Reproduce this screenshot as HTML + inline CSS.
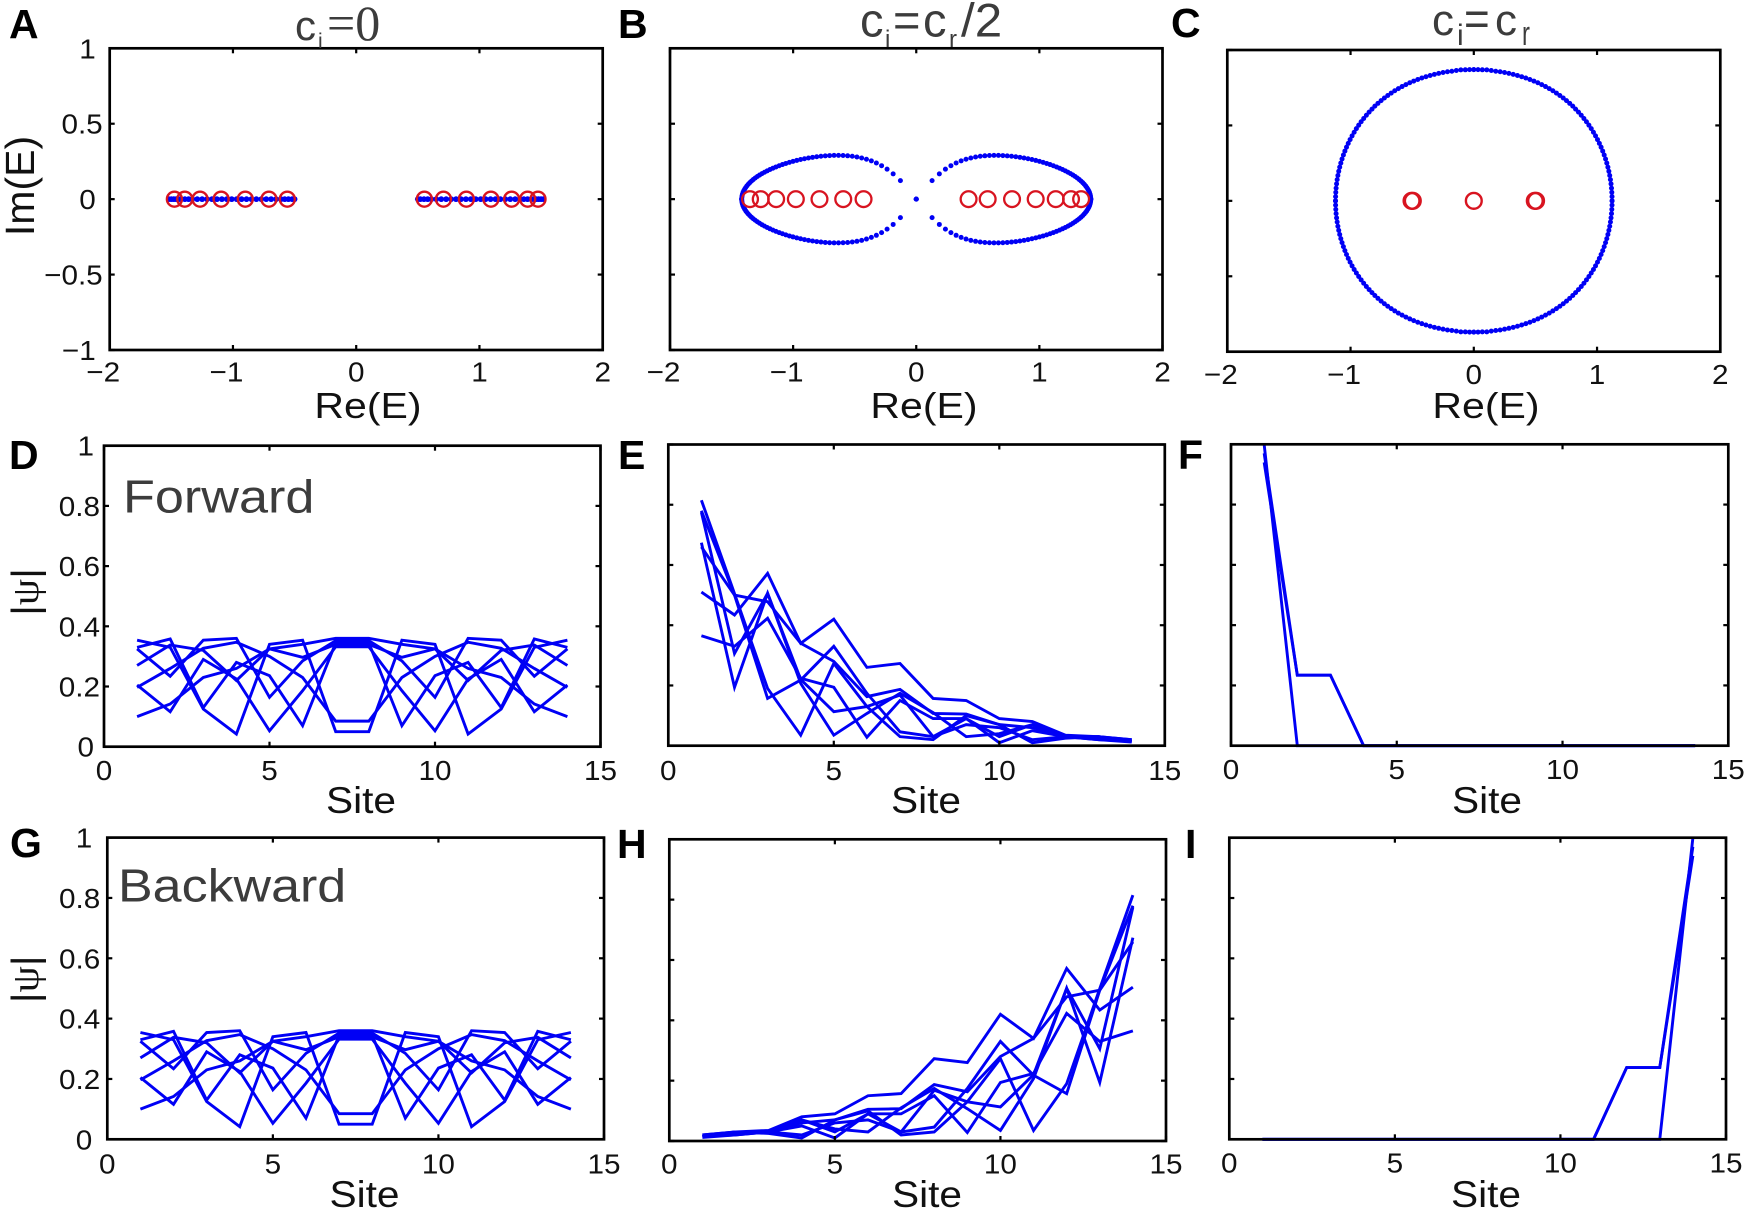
<!DOCTYPE html>
<html lang="en">
<head>
<meta charset="utf-8">
<title>Complex spectra and eigenstate profiles</title>
<style>
  html, body { margin: 0; padding: 0; background: #fff; }
  svg { display: block; filter: blur(0.35px); }
  .sans { font-family: "Liberation Sans", sans-serif; }
  .serif { font-family: "Liberation Serif", serif; }
  .lt { fill: #111; }
  .tt { fill: #3c3c3c; }
  .pl { font-family: "Liberation Sans", sans-serif; font-weight: bold; font-size: 41px; fill: #000; }
</style>
</head>
<body>
<svg id="fig" xmlns="http://www.w3.org/2000/svg" width="1748" height="1213" viewBox="0 0 1748 1213">
  <rect x="0" y="0" width="1748" height="1213" fill="#fff"/>
  <g id="plots"></g>

  <text class="pl" x="9" y="38">A</text>
  <text class="pl" x="618" y="38">B</text>
  <text class="pl" x="1171" y="37">C</text>
  <text class="pl" x="9" y="469">D</text>
  <text class="pl" x="618" y="469">E</text>
  <text class="pl" x="1178" y="469">F</text>
  <text class="pl" x="10" y="857">G</text>
  <text class="pl" x="617" y="858">H</text>
  <text class="pl" x="1185" y="858">I</text>

  <g>
    <text class="sans tt" font-size="42" x="295" y="40">c</text>
    <text class="sans tt" font-size="21" x="318" y="48">i</text>
    <text class="serif tt" font-size="50" x="327" y="40">=0</text>
  </g>
  <g>
    <text class="sans tt" font-size="47" x="860" y="36.7">c</text>
    <text class="sans tt" font-size="24" x="885" y="47">i</text>
    <text class="sans tt" font-size="47" x="893" y="36.7">=</text>
    <text class="sans tt" font-size="47" x="923" y="36.7">c</text>
    <text class="sans tt" font-size="24" x="949" y="47">r</text>
    <text class="sans tt" font-size="47" transform="translate(961,36.7) scale(1.05,1)">/2</text>
  </g>
  <g>
    <text class="sans tt" font-size="44" x="1432" y="35">c</text>
    <text class="sans tt" font-size="30" x="1457" y="45">i</text>
    <text class="sans tt" font-size="44" transform="translate(1464,35) scale(1,1.1)">=</text>
    <text class="sans tt" font-size="44" x="1495" y="35">c</text>
    <text class="sans tt" font-size="34" transform="translate(1522,45) scale(0.7,1)">r</text>
  </g>

  <text class="sans tt" font-size="46" transform="translate(123,512.7) scale(1.135,1)">Forward</text>
  <text class="sans tt" font-size="46" transform="translate(118,901.7) scale(1.13,1)">Backward</text>

  <text class="sans lt" font-size="41" text-anchor="middle" transform="translate(34,186) rotate(-90)">Im(E)</text>
  <text class="sans lt" font-size="38" text-anchor="middle" transform="translate(38,592) rotate(-90) scale(1.1,1)">|<tspan class="serif">ψ</tspan>|</text>
  <text class="sans lt" font-size="38" text-anchor="middle" transform="translate(38,979.3) rotate(-90) scale(1.1,1)">|<tspan class="serif">ψ</tspan>|</text>

  <text class="sans lt" font-size="36" text-anchor="middle" transform="translate(368,418) scale(1.14,1)">Re(E)</text>
  <text class="sans lt" font-size="36" text-anchor="middle" transform="translate(924,418) scale(1.14,1)">Re(E)</text>
  <text class="sans lt" font-size="36" text-anchor="middle" transform="translate(1486,418) scale(1.14,1)">Re(E)</text>
  <text class="sans lt" font-size="37" text-anchor="middle" transform="translate(361,813) scale(1.1,1)">Site</text>
  <text class="sans lt" font-size="37" text-anchor="middle" transform="translate(926,813) scale(1.1,1)">Site</text>
  <text class="sans lt" font-size="37" text-anchor="middle" transform="translate(1487,813) scale(1.1,1)">Site</text>
  <text class="sans lt" font-size="37" text-anchor="middle" transform="translate(364.5,1207) scale(1.1,1)">Site</text>
  <text class="sans lt" font-size="37" text-anchor="middle" transform="translate(927,1207) scale(1.1,1)">Site</text>
  <text class="sans lt" font-size="37" text-anchor="middle" transform="translate(1486,1207) scale(1.1,1)">Site</text>
</svg>

<script>
// ---------- Data ----------
const sites = [1,2,3,4,5,6,7,8,9,10,11,12,13,14];
const reTicks = [-2,-1,0,1,2];
const reTickLabels = ['−2','−1','0','1','2'];
const imTicks = [-1,-0.5,0,0.5,1];
const imTickLabels = ['−1','−0.5','0','0.5','1'];
const siteTicks = [0,5,10,15];
const siteTickLabels = ['0','5','10','15'];
const psiTicks = [0,0.2,0.4,0.6,0.8,1];
const psiTickLabels = ['0','0.2','0.4','0.6','0.8','1'];

// Panel A: blue spectrum on the real axis (positive half, mirrored to negative band)
const bandARe = [0.5,0.52,0.55,0.58,0.61,0.65,0.69,0.73,0.77,0.81,0.85,0.89,0.93,0.97,1.01,1.05,1.09,1.13,1.17,1.21,1.25,1.29,1.33,1.36,1.39,1.42,1.44,1.46,1.48,1.5,1.52];
const openARe = [-1.475,-1.391,-1.267,-1.096,-0.9,-0.708,-0.559,0.553,0.708,0.894,1.093,1.261,1.391,1.475];

// Panel B: first-quadrant points of the lobes (reflected into the other quadrants)
const loopBRe = [0,0.1286,0.1876,0.2369,0.2816,0.3239,0.3645,0.4043,0.4433,0.4818,0.5197,0.5572,0.5944,0.6312,0.6675,0.7035,0.7389,0.7739,0.8083,0.8421,0.8753,0.9079,0.9396,0.9707,1.001,1.0305,1.0591,1.0868,1.1135,1.1393,1.1642,1.188,1.2108,1.2324,1.253,1.2724,1.2907,1.3079,1.3238,1.3386,1.3521,1.3643,1.3754,1.3851,1.3936,1.4008,1.4067,1.4113,1.4146,1.4165,1.4184];
const loopBIm = [0,0.1226,0.1677,0.1987,0.2218,0.2397,0.2536,0.2645,0.273,0.2794,0.2841,0.2873,0.2893,0.2901,0.2899,0.2889,0.287,0.2844,0.2812,0.2773,0.2729,0.268,0.2626,0.2567,0.2504,0.2439,0.2367,0.2293,0.2216,0.2135,0.2052,0.1966,0.1877,0.1786,0.1693,0.1597,0.1499,0.14,0.1299,0.1196,0.1092,0.0986,0.0879,0.0772,0.0663,0.0554,0.0444,0.0333,0.0222,0.0111,0];
const openBRe = [-1.35,-1.263,-1.138,-0.978,-0.786,-0.593,-0.428,0.425,0.58,0.778,0.97,1.133,1.257,1.339];

// Panel C: first-quadrant points of the closed loop (reflected into the other quadrants)
const loopCRe = [1.122,1.1214,1.1198,1.1172,1.1134,1.1086,1.1028,1.0959,1.088,1.079,1.069,1.0579,1.0459,1.0328,1.0188,1.0037,0.9877,0.9707,0.9528,0.9339,0.9141,0.8934,0.8718,0.8494,0.826,0.8029,0.7779,0.7521,0.7256,0.6982,0.6702,0.6414,0.612,0.5818,0.551,0.5195,0.4875,0.4549,0.4218,0.3883,0.3542,0.3197,0.2848,0.2495,0.2138,0.1781,0.1418,0.1053,0.0691,0.0344,0];
const loopCIm = [0,0.0282,0.0565,0.0846,0.1126,0.1405,0.1683,0.1959,0.2232,0.2504,0.2772,0.3037,0.33,0.3558,0.3812,0.4062,0.4308,0.4549,0.4785,0.5016,0.5241,0.5461,0.5675,0.5881,0.6083,0.6277,0.6465,0.6646,0.682,0.6986,0.7145,0.7297,0.744,0.7577,0.7705,0.7827,0.794,0.8046,0.8143,0.823,0.8311,0.8384,0.8449,0.8507,0.856,0.8594,0.8639,0.8683,0.8687,0.8699,0.87];
const openCRe = [-0.505,-0.495,0,0.495,0.505];

// Panel D: |psi| per site
const forwardHermitian1 = [0.10,0.142,0.23,0.26,0.325,0.34,0.36,0.36,0.34,0.325,0.26,0.23,0.142,0.10];
const forwardHermitian2 = [0.197,0.26,0.327,0.347,0.30,0.23,0.085,0.085,0.23,0.30,0.347,0.327,0.26,0.197];
const forwardHermitian3 = [0.354,0.33,0.125,0.042,0.34,0.354,0.05,0.05,0.354,0.34,0.042,0.125,0.33,0.354];
const forwardHermitian4 = [0.33,0.358,0.13,0.28,0.236,0.07,0.345,0.345,0.07,0.236,0.28,0.13,0.358,0.33];
const forwardHermitian5 = [0.205,0.116,0.29,0.225,0.053,0.186,0.332,0.332,0.186,0.053,0.225,0.29,0.116,0.205];
const forwardHermitian6 = [0.325,0.234,0.354,0.36,0.164,0.285,0.352,0.352,0.285,0.164,0.36,0.354,0.234,0.325];
const forwardHermitian7 = [0.27,0.338,0.32,0.22,0.325,0.297,0.34,0.34,0.297,0.325,0.22,0.32,0.338,0.27];

// Panel G
const backwardHermitian1 = [0.10,0.142,0.23,0.26,0.325,0.34,0.36,0.36,0.34,0.325,0.26,0.23,0.142,0.10];
const backwardHermitian2 = [0.197,0.26,0.327,0.347,0.30,0.23,0.085,0.085,0.23,0.30,0.347,0.327,0.26,0.197];
const backwardHermitian3 = [0.354,0.33,0.125,0.042,0.34,0.354,0.05,0.05,0.354,0.34,0.042,0.125,0.33,0.354];
const backwardHermitian4 = [0.33,0.358,0.13,0.28,0.236,0.07,0.345,0.345,0.07,0.236,0.28,0.13,0.358,0.33];
const backwardHermitian5 = [0.205,0.116,0.29,0.225,0.053,0.186,0.332,0.332,0.186,0.053,0.225,0.29,0.116,0.205];
const backwardHermitian6 = [0.325,0.234,0.354,0.36,0.164,0.285,0.352,0.352,0.285,0.164,0.36,0.354,0.234,0.325];
const backwardHermitian7 = [0.27,0.338,0.32,0.22,0.325,0.297,0.34,0.34,0.297,0.325,0.22,0.32,0.338,0.27];

// Panel E
const forwardHalf1 = [0.365,0.33,0.423,0.224,0.194,0.028,0.15,0.09,0.09,0.01,0.05,0.03,0.03,0.015];
const forwardHalf2 = [0.51,0.434,0.572,0.34,0.42,0.26,0.273,0.157,0.15,0.09,0.08,0.035,0.03,0.02];
const forwardHalf3 = [0.66,0.50,0.478,0.34,0.28,0.163,0.187,0.107,0.105,0.07,0.06,0.03,0.025,0.015];
const forwardHalf4 = [0.815,0.505,0.19,0.035,0.273,0.13,0.03,0.02,0.1,0.07,0.01,0.025,0.03,0.02];
const forwardHalf5 = [0.78,0.50,0.157,0.218,0.33,0.174,0.046,0.03,0.07,0.06,0.02,0.03,0.02,0.015];
const forwardHalf6 = [0.674,0.194,0.506,0.207,0.035,0.107,0.174,0.11,0.03,0.04,0.07,0.03,0.02,0.012];
const forwardHalf7 = [0.775,0.306,0.506,0.22,0.113,0.13,0.168,0.03,0.09,0.03,0.07,0.03,0.03,0.015];

// Panel H
const backwardHalf1 = [0.015,0.03,0.03,0.05,0.01,0.09,0.09,0.15,0.028,0.194,0.224,0.423,0.33,0.365];
const backwardHalf2 = [0.02,0.03,0.035,0.08,0.09,0.15,0.157,0.273,0.26,0.42,0.34,0.572,0.434,0.51];
const backwardHalf3 = [0.015,0.025,0.03,0.06,0.07,0.105,0.107,0.187,0.163,0.28,0.34,0.478,0.50,0.66];
const backwardHalf4 = [0.02,0.03,0.025,0.01,0.07,0.1,0.02,0.03,0.13,0.273,0.035,0.19,0.505,0.815];
const backwardHalf5 = [0.015,0.02,0.03,0.02,0.06,0.07,0.03,0.046,0.174,0.33,0.218,0.157,0.50,0.78];
const backwardHalf6 = [0.012,0.02,0.03,0.07,0.04,0.03,0.11,0.174,0.107,0.035,0.207,0.506,0.194,0.674];
const backwardHalf7 = [0.015,0.03,0.03,0.07,0.03,0.09,0.03,0.168,0.13,0.113,0.22,0.506,0.306,0.775];

// Panel F
const forwardFull1 = [1,0,0,0,0,0,0,0,0,0,0,0,0,0];
const forwardFull2 = [0.94,0.234,0.234,0,0,0,0,0,0,0,0,0,0,0];
const forwardFull3 = [0.97,0.234,0.234,0,0,0,0,0,0,0,0,0,0,0];

// Panel I
const backwardFull1 = [0,0,0,0,0,0,0,0,0,0,0,0,0,1];
const backwardFull2 = [0,0,0,0,0,0,0,0,0,0,0,0.238,0.238,0.94];
const backwardFull3 = [0,0,0,0,0,0,0,0,0,0,0,0.238,0.238,0.97];

// ---------- Drawing ----------
const NS = 'http://www.w3.org/2000/svg';
const BLUE = '#0000f5';
const RED = '#d81420';
const root = document.getElementById('plots');

function mk(tag, parent, attrs, name) {
  const el = document.createElementNS(NS, tag);
  for (const k in attrs) el.setAttribute(k, attrs[k]);
  
  
  parent.appendChild(el);
  return el;
}

function makeAxes(id, left, right, top, bottom, xMin, xMax, yMin, yMax) {
  const g = mk('g', root, {}, 'panel-' + id);
  return {
    id, g, left, right, top, bottom,
    x: v => left + (v - xMin) / (xMax - xMin) * (right - left),
    y: v => bottom - (v - yMin) / (yMax - yMin) * (bottom - top)
  };
}

function finishAxes(ax, xTicks, xLabels, yTicks, yLabels, xLabelBase, intOff, decOff) {
  const g = ax.g;
  xTicks.forEach(v => {
    const x = ax.x(v);
    mk('line', g, {x1:x, x2:x, y1:ax.bottom, y2:ax.bottom-5, stroke:'#000','stroke-width':2.2}, 'x-tick-bottom');
    mk('line', g, {x1:x, x2:x, y1:ax.top, y2:ax.top+5, stroke:'#000','stroke-width':2.2}, 'x-tick-top');
  });
  yTicks.forEach(v => {
    const y = ax.y(v);
    mk('line', g, {x1:ax.left, x2:ax.left+5, y1:y, y2:y, stroke:'#000','stroke-width':2.2}, 'y-tick-left');
    mk('line', g, {x1:ax.right, x2:ax.right-5, y1:y, y2:y, stroke:'#000','stroke-width':2.2}, 'y-tick-right');
  });
  mk('rect', g, {x:ax.left, y:ax.top, width:ax.right-ax.left, height:ax.bottom-ax.top, fill:'none', stroke:'#000','stroke-width':2.7}, 'axes-box');
  xLabels.forEach((s, i) => {
    const off = s.charAt(0) === '−' ? -6.5 : 0;
    const t = mk('text', g, {class:'sans lt','font-size':28,'text-anchor':'middle',
      transform:'translate(' + (ax.x(xTicks[i]) + off) + ',' + xLabelBase + ') scale(1.06,1)'}, 'x-tick-label');
    t.textContent = s;
  });
  if (yLabels) {
    yLabels.forEach((s, i) => {
      const off = s.indexOf('.') >= 0 ? decOff : intOff;
      const t = mk('text', g, {class:'sans lt','font-size':28,'text-anchor':'end',
        transform:'translate(' + (ax.left - off) + ',' + (ax.y(yTicks[i]) + 10) + ') scale(1.06,1)'}, 'y-tick-label');
      t.textContent = s;
    });
  }
}

function dot(ax, re, im, r) {
  mk('circle', ax.g, {cx:ax.x(re), cy:ax.y(im), r:r, fill:BLUE}, 'spectrum-dot');
}
function quadDots(ax, res, ims, r) {
  res.forEach((re, i) => {
    const im = ims[i];
    dot(ax, re, im, r);
    dot(ax, -re, im, r);
    dot(ax, re, -im, r);
    dot(ax, -re, -im, r);
  });
}
function openCircles(ax, res, r, sw) {
  res.forEach(re => {
    mk('circle', ax.g, {cx:ax.x(re), cy:ax.y(0), r:r, fill:'none', stroke:RED, 'stroke-width':sw}, 'open-boundary-eigenvalue');
  });
}
function lines(ax, series) {
  series.forEach(vals => {
    const pts = vals.map((v, i) => ax.x(sites[i]).toFixed(2) + ',' + ax.y(v).toFixed(2)).join(' ');
    mk('polyline', ax.g, {points:pts, fill:'none', stroke:BLUE, 'stroke-width':2.9, 'stroke-linejoin':'miter'}, 'eigenstate-line');
  });
}

// Panel A
const axA = makeAxes('a', 109.7, 602.7, 48.3, 350, -2, 2, -1, 1);
bandARe.forEach(v => { dot(axA, v, 0, 2.9); dot(axA, -v, 0, 2.9); });
openCircles(axA, openARe, 7.5, 2.4);
finishAxes(axA, reTicks, reTickLabels, imTicks, imTickLabels, 381.7, 14, 7);

// Panel B
const axB = makeAxes('b', 670, 1162.5, 48.3, 350, -2, 2, -1, 1);
quadDots(axB, loopBRe, loopBIm, 2.5);
openCircles(axB, openBRe, 7.9, 2.3);
finishAxes(axB, reTicks, reTickLabels, imTicks, null, 381.7, 0, 0);

// Panel C
const axC = makeAxes('c', 1227.3, 1720.3, 50, 351.7, -2, 2, -1, 1);
quadDots(axC, loopCRe, loopCIm, 2.5);
openCircles(axC, openCRe, 7.9, 2.4);
finishAxes(axC, reTicks, reTickLabels, imTicks, null, 384, 0, 0);

// Panel D
const axD = makeAxes('d', 104, 600.5, 445.7, 746.7, 0, 15, 0, 1);
lines(axD, [forwardHermitian1,forwardHermitian2,forwardHermitian3,forwardHermitian4,forwardHermitian5,forwardHermitian6,forwardHermitian7]);
finishAxes(axD, siteTicks, siteTickLabels, psiTicks, psiTickLabels, 780, 10, 4);

// Panel E
const axE = makeAxes('e', 668.3, 1164.8, 444.5, 745.7, 0, 15, 0, 1);
lines(axE, [forwardHalf1,forwardHalf2,forwardHalf3,forwardHalf4,forwardHalf5,forwardHalf6,forwardHalf7]);
finishAxes(axE, siteTicks, siteTickLabels, psiTicks, null, 780, 0, 0);

// Panel F
const axF = makeAxes('f', 1231, 1728.3, 444.3, 745.7, 0, 15, 0, 1);
lines(axF, [forwardFull1,forwardFull2,forwardFull3]);
finishAxes(axF, siteTicks, siteTickLabels, psiTicks, null, 779, 0, 0);

// Panel G
const axG = makeAxes('g', 107.3, 604, 837.6, 1139.3, 0, 15, 0, 1);
lines(axG, [backwardHermitian1,backwardHermitian2,backwardHermitian3,backwardHermitian4,backwardHermitian5,backwardHermitian6,backwardHermitian7]);
finishAxes(axG, siteTicks, siteTickLabels, psiTicks, psiTickLabels, 1173.3, 15, 7);

// Panel H
const axH = makeAxes('h', 669.3, 1166, 839.3, 1141, 0, 15, 0, 1);
lines(axH, [backwardHalf1,backwardHalf2,backwardHalf3,backwardHalf4,backwardHalf5,backwardHalf6,backwardHalf7]);
finishAxes(axH, siteTicks, siteTickLabels, psiTicks, null, 1173.3, 0, 0);

// Panel I
const axI = makeAxes('i', 1229.3, 1726, 837.7, 1139.3, 0, 15, 0, 1);
lines(axI, [backwardFull1,backwardFull2,backwardFull3]);
finishAxes(axI, siteTicks, siteTickLabels, psiTicks, null, 1172.5, 0, 0);
</script>
</body>
</html>
